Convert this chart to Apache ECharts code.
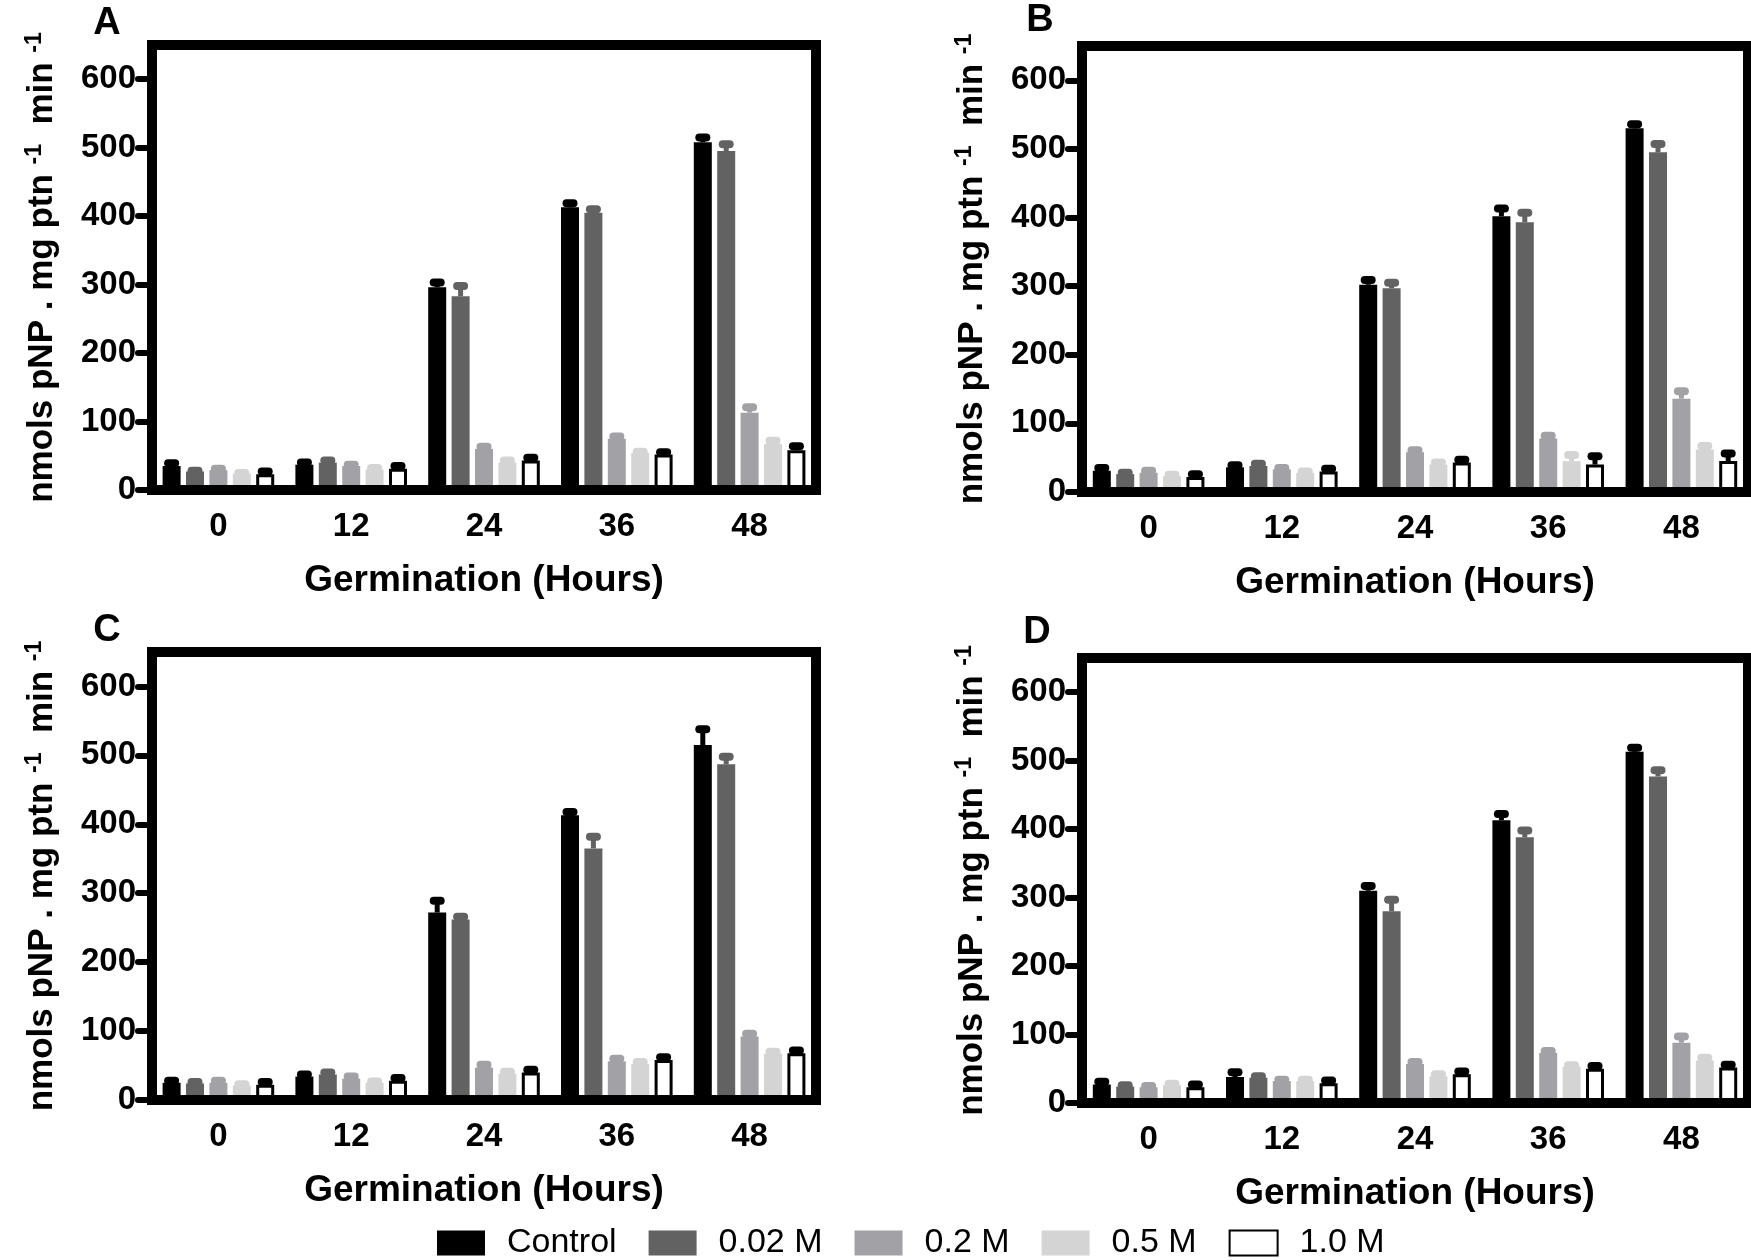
<!DOCTYPE html>
<html>
<head>
<meta charset="utf-8">
<script src="https://cdn.jsdelivr.net/npm/echarts@6/dist/echarts.min.js"></script>
<style>
html, body { margin: 0; padding: 0; background: #fff; }
#main { width: 1751px; height: 1260px; }
</style>
</head>
<body>
<div id="main"></div>
<script>
// categories and groups
var hours = ['0', '12', '24', '36', '48'];
var groups = ['Control', '0.02 M', '0.2 M', '0.5 M', '1.0 M'];
var yTicks = [0, 100, 200, 300, 400, 500, 600];

// means (one row per group, across hours) and upper error (SEM)
var aMean = [[35, 37, 296, 413, 508], [27, 40, 283, 405, 495], [29, 35, 60, 75, 113], [24, 30, 40, 54, 67], [23, 31, 43, 52, 58]];
var aErr  = [[4, 3, 7, 6, 7], [1, 3, 15, 5, 10], [2, 2, 3, 3, 8], [1, 2, 3, 2, 5], [4, 4, 4, 3, 6]];

var bMean = [[31, 36, 302, 402, 530], [26, 38, 297, 393, 495], [28, 33, 58, 78, 136], [23, 28, 40, 45, 62], [22, 30, 43, 40, 45]];
var bErr  = [[4, 3, 7, 11, 6], [2, 3, 8, 14, 12], [3, 2, 3, 4, 11], [2, 2, 3, 9, 5], [4, 4, 4, 12, 11]];

var cMean = [[25, 34, 272, 413, 515], [24, 37, 262, 365, 487], [25, 31, 47, 56, 92], [21, 25, 38, 52, 67], [22, 28, 40, 58, 68]];
var cErr  = [[3, 3, 17, 5, 23], [2, 3, 4, 17, 11], [3, 3, 4, 4, 4], [2, 2, 3, 3, 3], [4, 4, 4, 4, 4]];

var dMean = [[27, 38, 310, 413, 513], [24, 37, 280, 388, 477], [23, 32, 57, 73, 88], [26, 32, 39, 53, 62], [23, 29, 42, 50, 52]];
var dErr  = [[4, 7, 7, 9, 6], [2, 2, 17, 10, 9], [2, 2, 3, 3, 9], [2, 2, 3, 2, 4], [4, 4, 4, 4, 4]];

var panels = [
    { letter: 'A', mean: aMean, err: aErr },
    { letter: 'B', mean: bMean, err: bErr },
    { letter: 'C', mean: cMean, err: cErr },
    { letter: 'D', mean: dMean, err: dErr }
];

// layout
var grids = [
    { left: 152, top: 45, width: 664, height: 445 },
    { left: 1082, top: 46, width: 666, height: 446 },
    { left: 152, top: 652, width: 664, height: 448 },
    { left: 1082, top: 658, width: 666, height: 445 }
];
var letterPos = [[107, 24], [1040, 21], [107, 631], [1037, 633]];

var fontName = '"Liberation Sans", Arial, sans-serif';
var fills = ['#000000', '#626262', '#a2a2a6', '#d4d4d4', '#ffffff'];
var errColors = ['#000000', '#626262', '#a2a2a6', '#d4d4d4', '#000000'];
var barW = 18;
var barGapPx = 5.4;

function errRenderer(i) {
    var offset = (i - 2) * (barW + barGapPx);
    var color = errColors[i];
    return function (params, api) {
        var base = api.coord([api.value(0), api.value(1)]);
        var top = api.coord([api.value(0), api.value(1) + api.value(2)]);
        var x = base[0] + offset;
        return {
            type: 'group',
            children: [
                { type: 'line', shape: { x1: x, y1: base[1], x2: x, y2: top[1] },
                  style: { stroke: color, lineWidth: 5 } },
                { type: 'line', shape: { x1: x - 3.5, y1: top[1], x2: x + 3.5, y2: top[1] },
                  style: { stroke: color, lineWidth: 8, lineCap: 'round' } }
            ]
        };
    };
}

var option = {
    animation: false,
    backgroundColor: '#fff',
    textStyle: { fontFamily: fontName, color: '#000' },
    legend: {
        data: groups,
        left: 432,
        top: 1221,
        icon: 'rect',
        itemWidth: 48,
        itemHeight: 25,
        itemGap: 32,
        selectedMode: false,
        textStyle: { fontSize: 34, color: '#000', fontFamily: fontName, padding: [0, 0, 0, 17] }
    },
    grid: [],
    xAxis: [],
    yAxis: [],
    series: [],
    graphic: []
};

panels.forEach(function (p, k) {
    var g = grids[k];
    option.grid.push({
        left: g.left, top: g.top, width: g.width, height: g.height,
        show: true, borderColor: '#000', borderWidth: 10, backgroundColor: 'transparent'
    });
    option.xAxis.push({
        type: 'category',
        gridIndex: k,
        data: hours,
        z: 5,
        axisLine: { show: true, lineStyle: { color: '#000', width: 10 } },
        axisTick: { alignWithLabel: true, length: 12, lineStyle: { color: '#000', width: 8, cap: 'round' } },
        axisLabel: { margin: 20, fontSize: 33, fontWeight: 'bold', color: '#000', fontFamily: fontName },
        splitLine: { show: false },
        name: 'Germination (Hours)',
        nameLocation: 'middle',
        nameGap: 72,
        nameTextStyle: { fontSize: 37, fontWeight: 'bold', color: '#000', fontFamily: fontName }
    });
    option.yAxis.push({
        type: 'value',
        gridIndex: k,
        min: 0,
        max: 650,
        z: 5,
        axisLine: { show: true, lineStyle: { color: '#000', width: 10 } },
        axisTick: { show: true, length: 14, customValues: yTicks, lineStyle: { color: '#000', width: 6, cap: 'round' } },
        axisLabel: { margin: 16, fontSize: 33, fontWeight: 'bold', color: '#000', fontFamily: fontName, customValues: yTicks },
        splitLine: { show: false },
        name: '{m|nmols pNP . mg ptn }{s|-1}{m|  min }{s|-1}',
        nameLocation: 'middle',
        nameGap: 92,
        nameTextStyle: {
            rich: {
                m: { fontSize: 35, fontWeight: 'bold', fontFamily: fontName, color: '#000', lineHeight: 37, verticalAlign: 'bottom' },
                s: { fontSize: 23, fontWeight: 'bold', fontFamily: fontName, color: '#000', lineHeight: 23, verticalAlign: 'top' }
            }
        }
    });
    groups.forEach(function (name, i) {
        option.series.push({
            type: 'bar',
            name: name,
            xAxisIndex: k,
            yAxisIndex: k,
            data: p.mean[i],
            barWidth: barW,
            barGap: (barGapPx / barW * 100) + '%',
            silent: true,
            itemStyle: { color: fills[i], borderColor: '#000', borderWidth: i === 4 ? 3 : 0 }
        });
    });
    groups.forEach(function (name, i) {
        option.series.push({
            type: 'custom',
            xAxisIndex: k,
            yAxisIndex: k,
            z: 3,
            silent: true,
            data: p.mean[i].map(function (v, j) { return [j, v, p.err[i][j]]; }),
            renderItem: errRenderer(i)
        });
    });
    option.graphic.push({
        type: 'text',
        x: letterPos[k][0],
        y: letterPos[k][1],
        style: { text: p.letter, fontSize: 38, fontWeight: 'bold', fontFamily: fontName, fill: '#000', align: 'center', verticalAlign: 'middle' }
    });
});

var myChart = echarts.init(document.getElementById('main'));
myChart.setOption(option);
</script>
</body>
</html>
